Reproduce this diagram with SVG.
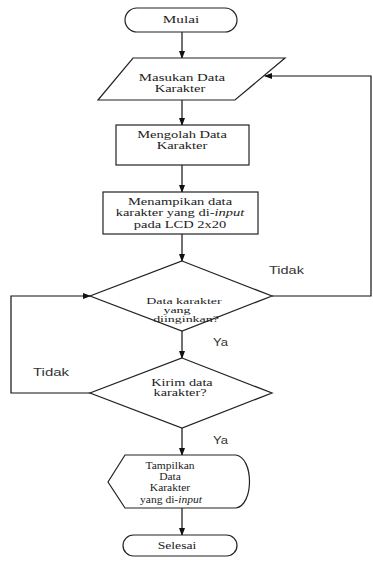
<svg xmlns="http://www.w3.org/2000/svg" width="373" height="561" viewBox="0 0 373 561">
<style>
.s{fill:#fff;stroke:#222;stroke-width:1.2}
.t{font-family:"Liberation Serif","Times New Roman",serif;font-size:10.5px;fill:#222;text-anchor:middle}
.d{font-size:9px}
.k{font-size:9.5px}
.g{font-family:"Liberation Sans",Arial,sans-serif;font-size:10px;fill:#333}
.c{fill:none;stroke:#111;stroke-width:1.2}
</style>
<defs>
<marker id="ah" markerWidth="8" markerHeight="6" refX="7" refY="3" orient="auto" markerUnits="userSpaceOnUse">
<path d="M0,0 L8,3 L0,6 Z" fill="#111"/>
</marker>
</defs>
<rect width="373" height="561" fill="#fff"/>
<g id="connectors">
<line class="c" x1="182" y1="32" x2="182" y2="58" marker-end="url(#ah)"/>
<line class="c" x1="182" y1="100" x2="182" y2="125" marker-end="url(#ah)"/>
<line class="c" x1="182" y1="165" x2="182" y2="192" marker-end="url(#ah)"/>
<line class="c" x1="182" y1="234" x2="182" y2="261" marker-end="url(#ah)"/>
<line class="c" x1="182" y1="331" x2="182" y2="358" marker-end="url(#ah)"/>
<line class="c" x1="182" y1="428" x2="182" y2="455" marker-end="url(#ah)"/>
<line class="c" x1="182" y1="508" x2="182" y2="535" marker-end="url(#ah)"/>
<polyline class="c" points="272,296 371,296 371,76 265,76" marker-end="url(#ah)"/>
<polyline class="c" points="90,393 11,393 11,296 90,296" marker-end="url(#ah)"/>
<text class="g" transform="translate(269,274) scale(1.45,1)">Tidak</text>
<text class="g" transform="translate(213,346) scale(1.3,1)">Ya</text>
<text class="g" transform="translate(33,376) scale(1.5,1)">Tidak</text>
<text class="g" transform="translate(213,444) scale(1.3,1)">Ya</text>
</g>
<g id="mulai">
<rect class="s" x="125" y="8" width="112" height="24" rx="12"/>
<text class="t" transform="translate(181,23) scale(1.45,1)">Mulai</text>
</g>
<g id="masukan">
<polygon class="s" points="133,58 285,58 235,100 98,100"/>
<text class="t" transform="translate(182,81) scale(1.42,1)">Masukan Data</text>
<text class="t" transform="translate(180,92) scale(1.38,1)">Karakter</text>
</g>
<g id="mengolah">
<rect class="s" x="116" y="125" width="133" height="40"/>
<text class="t" transform="translate(182,138) scale(1.38,1)">Mengolah Data</text>
<text class="t" transform="translate(182,149) scale(1.38,1)">Karakter</text>
</g>
<g id="menampilkan">
<rect class="s" x="103" y="192" width="155" height="42"/>
<text class="t" transform="translate(180,205) scale(1.38,1)">Menampikan data</text>
<text class="t" transform="translate(180,216) scale(1.38,1)">karakter yang di-<tspan font-style="italic">input</tspan></text>
<text class="t" transform="translate(180,228) scale(1.38,1)">pada LCD 2x20</text>
</g>
<g id="keputusan1">
<polygon class="s" points="182,261 272,296 182,331 90,296"/>
<text class="t d" transform="translate(184,304) scale(1.55,1)">Data karakter</text>
<text class="t d" transform="translate(177,313) scale(1.55,1)">yang</text>
<text class="t d" transform="translate(186,322) scale(1.55,1)">diinginkan?</text>
</g>
<g id="keputusan2">
<polygon class="s" points="182,358 272,393 182,428 90,393"/>
<text class="t k" transform="translate(182,386) scale(1.5,1)">Kirim data</text>
<text class="t k" transform="translate(180,396) scale(1.5,1)">karakter?</text>
</g>
<g id="tampilkan">
<path class="s" d="M125,455 H236 C254,458 254,505 236,508 H125 L108,482 Z"/>
<text class="t" transform="translate(170,469) scale(1.1,1)">Tampilkan</text>
<text class="t" transform="translate(170,480) scale(1.1,1)">Data</text>
<text class="t" transform="translate(170,491) scale(1.1,1)">Karakter</text>
<text class="t" transform="translate(171,503) scale(1.1,1)">yang di-<tspan font-style="italic">input</tspan></text>
</g>
<g id="selesai">
<rect class="s" x="123" y="535" width="114" height="21" rx="10.5"/>
<text class="t" transform="translate(177,549) scale(1.3,1)">Selesai</text>
</g>
</svg>
